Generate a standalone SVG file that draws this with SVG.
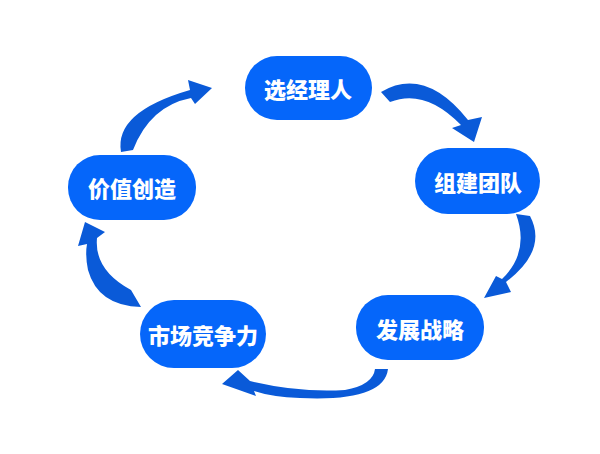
<svg xmlns="http://www.w3.org/2000/svg" width="600" height="454" viewBox="0 0 600 454">
<style>
.n{fill:#0566fa}
.t{fill:#fff;font-family:"Noto Sans CJK SC",sans-serif;font-weight:900;font-size:22px;text-anchor:middle;dominant-baseline:central}
.a{fill:#0a5ad8}
</style>
<rect width="600" height="454" fill="#fff"/>
<g id="connectors">
<path class="a" d="M381,92 Q425,66 468,120 L482,117 L474,142 L452,128 L461,125 Q425,88 390,102 Z"/>
<path class="a" d="M516,214 L530,216 Q548,250 506,282 L511,292 L484,298 L496,276 L502,279 Q530,252 516,214 Z"/>
<path class="a" d="M388,369 Q384,402 300,398 Q272,397 254,391 L256,396 L222,384 L238,370 L250,381 Q300,393 345,390 Q373,385 375,369 Z"/>
<path class="a" d="M141,307 Q98,306 88,270 Q85,255 87,244 L78,246 L85,222 L105,232 L97,238 Q94,270 131,290 Z"/>
<path class="a" d="M121,152 Q114,112 190,90 L188,80 L212,88 L195,104 L191,98 Q150,106 133,150 Z"/>
</g>
<g id="n1"><rect class="n" x="245" y="56" width="127" height="64" rx="32"/><text class="t" x="308" y="88">选经理人</text></g>
<g id="n2"><rect class="n" x="415" y="148" width="125" height="66" rx="33"/><text class="t" x="478" y="181">组建团队</text></g>
<g id="n3"><rect class="n" x="356" y="295" width="128" height="65" rx="32"/><text class="t" x="420" y="328">发展战略</text></g>
<g id="n4"><rect class="n" x="140" y="300" width="126" height="68" rx="34"/><text class="t" x="203" y="334">市场竞争力</text></g>
<g id="n5"><rect class="n" x="68" y="155" width="128" height="65" rx="32"/><text class="t" x="132" y="187">价值创造</text></g>
</svg>
